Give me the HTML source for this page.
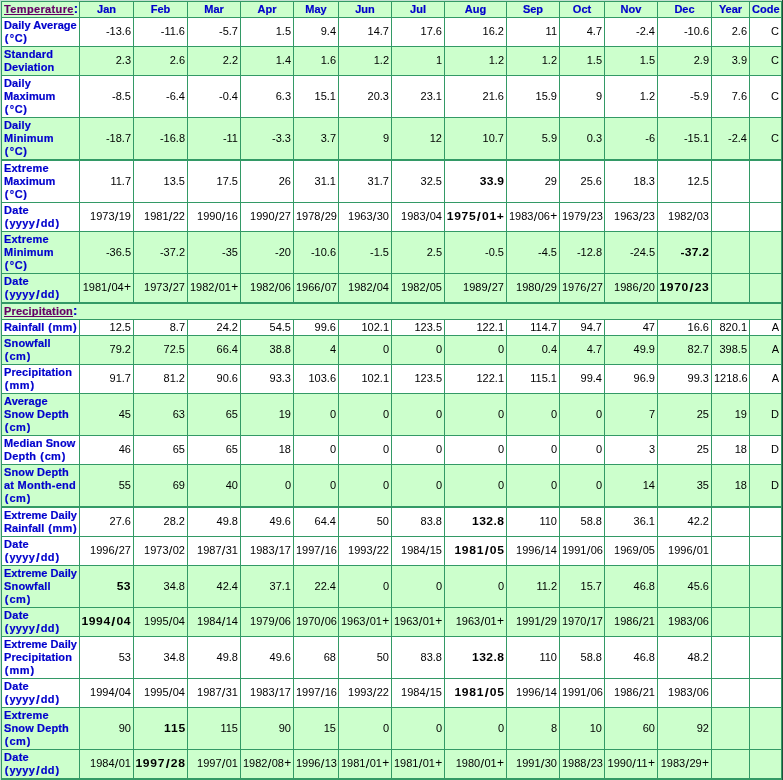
<!DOCTYPE html><html><head><meta charset='utf-8'><style>
html,body{margin:0;padding:0;background:#c3dfd1;}
body{width:783px;height:780px;overflow:hidden;position:relative;}
table{position:absolute;left:1px;top:1px;border-collapse:separate;border-spacing:0;table-layout:fixed;width:782px;
 border-left:1px solid #339966;border-top:1px solid #339966;font-family:"Liberation Sans",sans-serif;font-size:11px;line-height:13px;will-change:transform;}
td{border-right:1px solid #339966;border-bottom:1px solid #339966;padding:0 2px 0 2px;box-sizing:border-box;vertical-align:middle;text-align:right;color:#000;white-space:nowrap;overflow:hidden;}
td.l{text-align:left;color:#0000cc;font-weight:bold;padding-left:2px;-webkit-text-stroke:0.2px currentColor;}
td.c{text-align:center;color:#0000cc;font-weight:bold;-webkit-text-stroke:0.2px currentColor;}
td.last{border-right:2px solid #339966;}
tr.g td{background:#ccffcc;}
tr.w td{background:#fff;}
tr.t td{border-bottom:2px solid #339966;}
b{font-weight:bold;}
.bsl{font-size:13px;line-height:0;position:relative;top:1px;margin:0 0.5px;}
.rsl{font-size:13px;line-height:0;position:relative;top:1px;margin:0 0.3px;}
.rpl{font-size:12px;line-height:0;margin-left:0.3px;}
.co{font-size:13px;line-height:0;}
.po{margin:0 0.7px 0 0.7px;} .pc{margin-left:0.7px;} .sl{margin:0 0.8px;font-size:13px;line-height:0;position:relative;top:1px;} .dg{margin:0 0.6px;}
tr.r2 td:not(.l){padding-bottom:1px;}
.h{color:#660066;text-decoration:underline;text-decoration-skip-ink:none;}
.edge{position:absolute;left:782px;top:0;width:1px;height:780px;background:#1d5038;}
</style></head><body><table><colgroup>
<col style='width:78px'>
<col style='width:54px'>
<col style='width:54px'>
<col style='width:53px'>
<col style='width:53px'>
<col style='width:45px'>
<col style='width:53px'>
<col style='width:53px'>
<col style='width:62px'>
<col style='width:53px'>
<col style='width:45px'>
<col style='width:53px'>
<col style='width:54px'>
<col style='width:38px'>
<col style='width:33px'>
</colgroup>
<tr class='g' style='height:16px'><td class='l' style='letter-spacing:0.36px'><span class='h'>Temperature</span><span class=co>:</span></td>
<td class='c'>Jan</td>
<td class='c'>Feb</td>
<td class='c'>Mar</td>
<td class='c'>Apr</td>
<td class='c'>May</td>
<td class='c'>Jun</td>
<td class='c'>Jul</td>
<td class='c'>Aug</td>
<td class='c'>Sep</td>
<td class='c'>Oct</td>
<td class='c'>Nov</td>
<td class='c'>Dec</td>
<td class='c'>Year</td>
<td class='c last'>Code</td>
</tr>
<tr class='w r2' style='height:29px'><td class='l'><span class=lb style='letter-spacing:0.066px'>Daily Average</span><br><span class=lb style='letter-spacing:0.023px'><span class=po>(</span><span class=dg>°</span>C<span class=pc>)</span></span></td>
<td>-13.6</td>
<td>-11.6</td>
<td>-5.7</td>
<td>1.5</td>
<td>9.4</td>
<td>14.7</td>
<td>17.6</td>
<td>16.2</td>
<td>11</td>
<td>4.7</td>
<td>-2.4</td>
<td>-10.6</td>
<td>2.6</td>
<td class='last cd'>C</td>
</tr>
<tr class='g r2' style='height:29px'><td class='l'><span class=lb style='letter-spacing:0.198px'>Standard</span><br><span class=lb style='letter-spacing:0.083px'>Deviation</span></td>
<td>2.3</td>
<td>2.6</td>
<td>2.2</td>
<td>1.4</td>
<td>1.6</td>
<td>1.2</td>
<td>1</td>
<td>1.2</td>
<td>1.2</td>
<td>1.5</td>
<td>1.5</td>
<td>2.9</td>
<td>3.9</td>
<td class='last cd'>C</td>
</tr>
<tr class='w' style='height:42px'><td class='l'><span class=lb style='letter-spacing:0.115px'>Daily</span><br><span class=lb style='letter-spacing:0.111px'>Maximum</span><br><span class=lb style='letter-spacing:0.023px'><span class=po>(</span><span class=dg>°</span>C<span class=pc>)</span></span></td>
<td>-8.5</td>
<td>-6.4</td>
<td>-0.4</td>
<td>6.3</td>
<td>15.1</td>
<td>20.3</td>
<td>23.1</td>
<td>21.6</td>
<td>15.9</td>
<td>9</td>
<td>1.2</td>
<td>-5.9</td>
<td>7.6</td>
<td class='last cd'>C</td>
</tr>
<tr class='g t' style='height:43px'><td class='l'><span class=lb style='letter-spacing:0.115px'>Daily</span><br><span class=lb style='letter-spacing:0.217px'>Minimum</span><br><span class=lb style='letter-spacing:0.023px'><span class=po>(</span><span class=dg>°</span>C<span class=pc>)</span></span></td>
<td>-18.7</td>
<td>-16.8</td>
<td>-11</td>
<td>-3.3</td>
<td>3.7</td>
<td>9</td>
<td>12</td>
<td>10.7</td>
<td>5.9</td>
<td>0.3</td>
<td>-6</td>
<td>-15.1</td>
<td>-2.4</td>
<td class='last cd'>C</td>
</tr>
<tr class='w' style='height:42px'><td class='l'><span class=lb style='letter-spacing:0.19px'>Extreme</span><br><span class=lb style='letter-spacing:0.111px'>Maximum</span><br><span class=lb style='letter-spacing:0.023px'><span class=po>(</span><span class=dg>°</span>C<span class=pc>)</span></span></td>
<td>11.7</td>
<td>13.5</td>
<td>17.5</td>
<td>26</td>
<td>31.1</td>
<td>31.7</td>
<td>32.5</td>
<td><b style='display:inline-block;transform:scaleX(1.1);transform-origin:100% 50%;letter-spacing:0.19px;margin-right:-0.19px'>33.9</b></td>
<td>29</td>
<td>25.6</td>
<td>18.3</td>
<td>12.5</td>
<td></td>
<td class='last'></td>
</tr>
<tr class='w r2' style='height:29px'><td class='l'><span class=lb style='letter-spacing:0.297px'>Date</span><br><span class=lb style='letter-spacing:0.328px'><span class=po>(</span>yyyy<span class=sl>/</span>dd<span class=pc>)</span></span></td>
<td>1973<span class=rsl>/</span>19</td>
<td>1981<span class=rsl>/</span>22</td>
<td>1990<span class=rsl>/</span>16</td>
<td>1990<span class=rsl>/</span>27</td>
<td>1978<span class=rsl>/</span>29</td>
<td>1963<span class=rsl>/</span>30</td>
<td>1983<span class=rsl>/</span>04</td>
<td><b style='display:inline-block;transform:scaleX(1.1);transform-origin:100% 50%;letter-spacing:0.593px;margin-right:-0.593px'>1975<span class=bsl>/</span>01+</b></td>
<td>1983<span class=rsl>/</span>06<span class=rpl>+</span></td>
<td>1979<span class=rsl>/</span>23</td>
<td>1963<span class=rsl>/</span>23</td>
<td>1982<span class=rsl>/</span>03</td>
<td></td>
<td class='last'></td>
</tr>
<tr class='g' style='height:42px'><td class='l'><span class=lb style='letter-spacing:0.19px'>Extreme</span><br><span class=lb style='letter-spacing:0.217px'>Minimum</span><br><span class=lb style='letter-spacing:0.023px'><span class=po>(</span><span class=dg>°</span>C<span class=pc>)</span></span></td>
<td>-36.5</td>
<td>-37.2</td>
<td>-35</td>
<td>-20</td>
<td>-10.6</td>
<td>-1.5</td>
<td>2.5</td>
<td>-0.5</td>
<td>-4.5</td>
<td>-12.8</td>
<td>-24.5</td>
<td><b style='display:inline-block;transform:scaleX(1.1);transform-origin:100% 50%;letter-spacing:0.23px;margin-right:-0.23px'>-37.2</b></td>
<td></td>
<td class='last'></td>
</tr>
<tr class='g t r2' style='height:30px'><td class='l'><span class=lb style='letter-spacing:0.297px'>Date</span><br><span class=lb style='letter-spacing:0.328px'><span class=po>(</span>yyyy<span class=sl>/</span>dd<span class=pc>)</span></span></td>
<td>1981<span class=rsl>/</span>04<span class=rpl>+</span></td>
<td>1973<span class=rsl>/</span>27</td>
<td>1982<span class=rsl>/</span>01<span class=rpl>+</span></td>
<td>1982<span class=rsl>/</span>06</td>
<td>1966<span class=rsl>/</span>07</td>
<td>1982<span class=rsl>/</span>04</td>
<td>1982<span class=rsl>/</span>05</td>
<td>1989<span class=rsl>/</span>27</td>
<td>1980<span class=rsl>/</span>29</td>
<td>1976<span class=rsl>/</span>27</td>
<td>1986<span class=rsl>/</span>20</td>
<td><b style='display:inline-block;transform:scaleX(1.1);transform-origin:100% 50%;letter-spacing:0.58px;margin-right:-0.58px'>1970<span class=bsl>/</span>23</b></td>
<td></td>
<td class='last'></td>
</tr>
<tr class='g' style='height:16px'><td class='l last' colspan='15' style='letter-spacing:0.18px'><span class='h'>Precipitation</span><span class=co>:</span></td></tr>
<tr class='w' style='height:16px'><td class='l'><span class=lb style='letter-spacing:0.077px'>Rainfall <span class=po>(</span>mm<span class=pc>)</span></span></td>
<td>12.5</td>
<td>8.7</td>
<td>24.2</td>
<td>54.5</td>
<td>99.6</td>
<td>102.1</td>
<td>123.5</td>
<td>122.1</td>
<td>114.7</td>
<td>94.7</td>
<td>47</td>
<td>16.6</td>
<td>820.1</td>
<td class='last cd'>A</td>
</tr>
<tr class='g r2' style='height:29px'><td class='l'><span class=lb style='letter-spacing:0.187px'>Snowfall</span><br><span class=lb style='letter-spacing:0.359px'><span class=po>(</span>cm<span class=pc>)</span></span></td>
<td>79.2</td>
<td>72.5</td>
<td>66.4</td>
<td>38.8</td>
<td>4</td>
<td>0</td>
<td>0</td>
<td>0</td>
<td>0.4</td>
<td>4.7</td>
<td>49.9</td>
<td>82.7</td>
<td>398.5</td>
<td class='last cd'>A</td>
</tr>
<tr class='w r2' style='height:29px'><td class='l'><span class=lb style='letter-spacing:0.108px'>Precipitation</span><br><span class=lb style='letter-spacing:0.409px'><span class=po>(</span>mm<span class=pc>)</span></span></td>
<td>91.7</td>
<td>81.2</td>
<td>90.6</td>
<td>93.3</td>
<td>103.6</td>
<td>102.1</td>
<td>123.5</td>
<td>122.1</td>
<td>115.1</td>
<td>99.4</td>
<td>96.9</td>
<td>99.3</td>
<td>1218.6</td>
<td class='last cd'>A</td>
</tr>
<tr class='g' style='height:42px'><td class='l'><span class=lb style='letter-spacing:0.1px'>Average</span><br><span class=lb style='letter-spacing:0.139px'>Snow Depth</span><br><span class=lb style='letter-spacing:0.359px'><span class=po>(</span>cm<span class=pc>)</span></span></td>
<td>45</td>
<td>63</td>
<td>65</td>
<td>19</td>
<td>0</td>
<td>0</td>
<td>0</td>
<td>0</td>
<td>0</td>
<td>0</td>
<td>7</td>
<td>25</td>
<td>19</td>
<td class='last cd'>D</td>
</tr>
<tr class='w r2' style='height:29px'><td class='l'><span class=lb style='letter-spacing:0.104px'>Median Snow</span><br><span class=lb style='letter-spacing:0.208px'>Depth <span class=po>(</span>cm<span class=pc>)</span></span></td>
<td>46</td>
<td>65</td>
<td>65</td>
<td>18</td>
<td>0</td>
<td>0</td>
<td>0</td>
<td>0</td>
<td>0</td>
<td>0</td>
<td>3</td>
<td>25</td>
<td>18</td>
<td class='last cd'>D</td>
</tr>
<tr class='g t' style='height:43px'><td class='l'><span class=lb style='letter-spacing:0.139px'>Snow Depth</span><br><span class=lb style='letter-spacing:0.25px'>at Month-end</span><br><span class=lb style='letter-spacing:0.359px'><span class=po>(</span>cm<span class=pc>)</span></span></td>
<td>55</td>
<td>69</td>
<td>40</td>
<td>0</td>
<td>0</td>
<td>0</td>
<td>0</td>
<td>0</td>
<td>0</td>
<td>0</td>
<td>14</td>
<td>35</td>
<td>18</td>
<td class='last cd'>D</td>
</tr>
<tr class='w r2' style='height:29px'><td class='l'><span class=lb style='letter-spacing:0.012px'>Extreme Daily</span><br><span class=lb style='letter-spacing:0.077px'>Rainfall <span class=po>(</span>mm<span class=pc>)</span></span></td>
<td>27.6</td>
<td>28.2</td>
<td>49.8</td>
<td>49.6</td>
<td>64.4</td>
<td>50</td>
<td>83.8</td>
<td><b style='display:inline-block;transform:scaleX(1.1);transform-origin:100% 50%;letter-spacing:0.36px;margin-right:-0.36px'>132.8</b></td>
<td>110</td>
<td>58.8</td>
<td>36.1</td>
<td>42.2</td>
<td></td>
<td class='last'></td>
</tr>
<tr class='w r2' style='height:29px'><td class='l'><span class=lb style='letter-spacing:0.297px'>Date</span><br><span class=lb style='letter-spacing:0.328px'><span class=po>(</span>yyyy<span class=sl>/</span>dd<span class=pc>)</span></span></td>
<td>1996<span class=rsl>/</span>27</td>
<td>1973<span class=rsl>/</span>02</td>
<td>1987<span class=rsl>/</span>31</td>
<td>1983<span class=rsl>/</span>17</td>
<td>1997<span class=rsl>/</span>16</td>
<td>1993<span class=rsl>/</span>22</td>
<td>1984<span class=rsl>/</span>15</td>
<td><b style='display:inline-block;transform:scaleX(1.1);transform-origin:100% 50%;letter-spacing:0.622px;margin-right:-0.622px'>1981<span class=bsl>/</span>05</b></td>
<td>1996<span class=rsl>/</span>14</td>
<td>1991<span class=rsl>/</span>06</td>
<td>1969<span class=rsl>/</span>05</td>
<td>1996<span class=rsl>/</span>01</td>
<td></td>
<td class='last'></td>
</tr>
<tr class='g' style='height:42px'><td class='l'><span class=lb style='letter-spacing:0.012px'>Extreme Daily</span><br><span class=lb style='letter-spacing:0.187px'>Snowfall</span><br><span class=lb style='letter-spacing:0.359px'><span class=po>(</span>cm<span class=pc>)</span></span></td>
<td><b style='display:inline-block;transform:scaleX(1.1);transform-origin:100% 50%;letter-spacing:0.31px;margin-right:-0.31px'>53</b></td>
<td>34.8</td>
<td>42.4</td>
<td>37.1</td>
<td>22.4</td>
<td>0</td>
<td>0</td>
<td>0</td>
<td>11.2</td>
<td>15.7</td>
<td>46.8</td>
<td>45.6</td>
<td></td>
<td class='last'></td>
</tr>
<tr class='g r2' style='height:29px'><td class='l'><span class=lb style='letter-spacing:0.297px'>Date</span><br><span class=lb style='letter-spacing:0.328px'><span class=po>(</span>yyyy<span class=sl>/</span>dd<span class=pc>)</span></span></td>
<td><b style='display:inline-block;transform:scaleX(1.1);transform-origin:100% 50%;letter-spacing:0.532px;margin-right:-0.532px'>1994<span class=bsl>/</span>04</b></td>
<td>1995<span class=rsl>/</span>04</td>
<td>1984<span class=rsl>/</span>14</td>
<td>1979<span class=rsl>/</span>06</td>
<td>1970<span class=rsl>/</span>06</td>
<td>1963<span class=rsl>/</span>01<span class=rpl>+</span></td>
<td>1963<span class=rsl>/</span>01<span class=rpl>+</span></td>
<td>1963<span class=rsl>/</span>01<span class=rpl>+</span></td>
<td>1991<span class=rsl>/</span>29</td>
<td>1970<span class=rsl>/</span>17</td>
<td>1986<span class=rsl>/</span>21</td>
<td>1983<span class=rsl>/</span>06</td>
<td></td>
<td class='last'></td>
</tr>
<tr class='w' style='height:42px'><td class='l'><span class=lb style='letter-spacing:0.012px'>Extreme Daily</span><br><span class=lb style='letter-spacing:0.108px'>Precipitation</span><br><span class=lb style='letter-spacing:0.409px'><span class=po>(</span>mm<span class=pc>)</span></span></td>
<td>53</td>
<td>34.8</td>
<td>49.8</td>
<td>49.6</td>
<td>68</td>
<td>50</td>
<td>83.8</td>
<td><b style='display:inline-block;transform:scaleX(1.1);transform-origin:100% 50%;letter-spacing:0.36px;margin-right:-0.36px'>132.8</b></td>
<td>110</td>
<td>58.8</td>
<td>46.8</td>
<td>48.2</td>
<td></td>
<td class='last'></td>
</tr>
<tr class='w r2' style='height:29px'><td class='l'><span class=lb style='letter-spacing:0.297px'>Date</span><br><span class=lb style='letter-spacing:0.328px'><span class=po>(</span>yyyy<span class=sl>/</span>dd<span class=pc>)</span></span></td>
<td>1994<span class=rsl>/</span>04</td>
<td>1995<span class=rsl>/</span>04</td>
<td>1987<span class=rsl>/</span>31</td>
<td>1983<span class=rsl>/</span>17</td>
<td>1997<span class=rsl>/</span>16</td>
<td>1993<span class=rsl>/</span>22</td>
<td>1984<span class=rsl>/</span>15</td>
<td><b style='display:inline-block;transform:scaleX(1.1);transform-origin:100% 50%;letter-spacing:0.622px;margin-right:-0.622px'>1981<span class=bsl>/</span>05</b></td>
<td>1996<span class=rsl>/</span>14</td>
<td>1991<span class=rsl>/</span>06</td>
<td>1986<span class=rsl>/</span>21</td>
<td>1983<span class=rsl>/</span>06</td>
<td></td>
<td class='last'></td>
</tr>
<tr class='g' style='height:42px'><td class='l'><span class=lb style='letter-spacing:0.19px'>Extreme</span><br><span class=lb style='letter-spacing:0.139px'>Snow Depth</span><br><span class=lb style='letter-spacing:0.359px'><span class=po>(</span>cm<span class=pc>)</span></span></td>
<td>90</td>
<td><b style='display:inline-block;transform:scaleX(1.1);transform-origin:100% 50%;letter-spacing:0.8px;margin-right:-0.8px'>115</b></td>
<td>115</td>
<td>90</td>
<td>15</td>
<td>0</td>
<td>0</td>
<td>0</td>
<td>8</td>
<td>10</td>
<td>60</td>
<td>92</td>
<td></td>
<td class='last'></td>
</tr>
<tr class='g t r2' style='height:30px'><td class='l'><span class=lb style='letter-spacing:0.297px'>Date</span><br><span class=lb style='letter-spacing:0.328px'><span class=po>(</span>yyyy<span class=sl>/</span>dd<span class=pc>)</span></span></td>
<td>1984<span class=rsl>/</span>01</td>
<td><b style='display:inline-block;transform:scaleX(1.1);transform-origin:100% 50%;letter-spacing:0.622px;margin-right:-0.622px'>1997<span class=bsl>/</span>28</b></td>
<td>1997<span class=rsl>/</span>01</td>
<td>1982<span class=rsl>/</span>08<span class=rpl>+</span></td>
<td>1996<span class=rsl>/</span>13</td>
<td>1981<span class=rsl>/</span>01<span class=rpl>+</span></td>
<td>1981<span class=rsl>/</span>01<span class=rpl>+</span></td>
<td>1980<span class=rsl>/</span>01<span class=rpl>+</span></td>
<td>1991<span class=rsl>/</span>30</td>
<td>1988<span class=rsl>/</span>23</td>
<td>1990<span class=rsl>/</span>11<span class=rpl>+</span></td>
<td>1983<span class=rsl>/</span>29<span class=rpl>+</span></td>
<td></td>
<td class='last'></td>
</tr>
</table><div class='edge'></div></body></html>
